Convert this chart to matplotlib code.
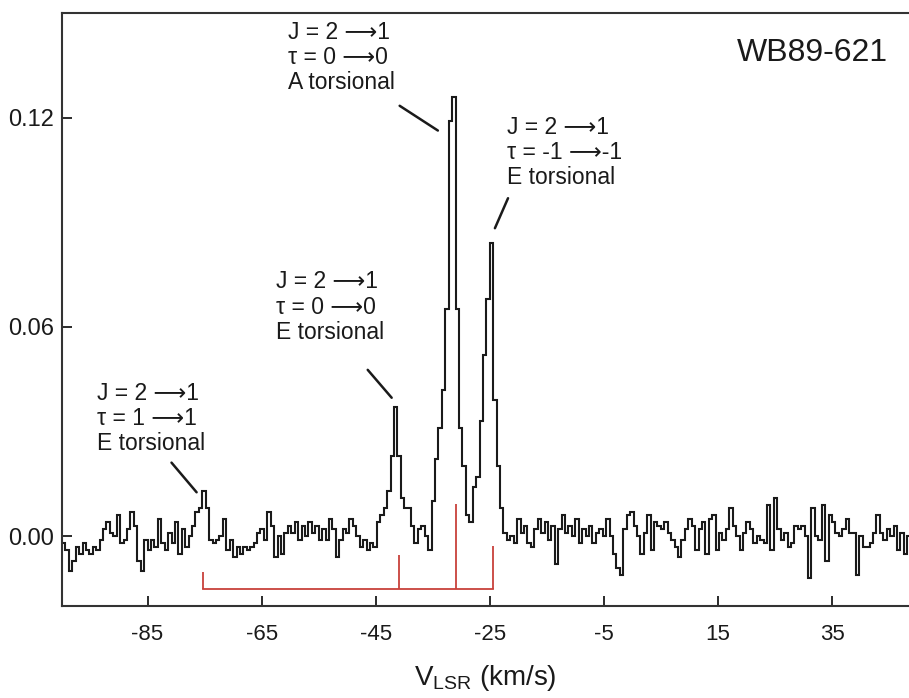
import numpy as np
import matplotlib.pyplot as plt

plt.rcParams['font.family'] = ['Liberation Sans', 'DejaVu Sans']
plt.rcParams['mathtext.fontset'] = 'custom'
plt.rcParams['mathtext.rm'] = 'Liberation Sans'
plt.rcParams['axes.unicode_minus'] = False

# spectrum, 0.6 km/s channels starting at -100 km/s (antenna temperature in mK)
v_start = -100.0
dv = 0.6
ta_mK = [
    -2, -4, -10, -7, -3, -5, -2, -4, -5, -3,
    -4, -1, 2, 4, 1, 0, 6, -2, -1, 2,
    7, 3, -7, -10, -1, -4, -1, -3, 5, -2,
    -4, 1, -2, 4, -5, 2, -3, 0, 3, 7,
    8, 13, 8, -1, -2, -1, 0, 5, -4, -1,
    -6, -3, -5, -3, -4, -3, -2, 1, 2, -1,
    7, 3, -6, 0, -5, 1, 3, 1, 4, -1,
    3, 0, 4, 1, 3, -1, 2, -1, 5, 2,
    -6, -1, 2, 1, 5, 3, 0, -3, -1, -4,
    -2, -3, 4, 6, 8, 13, 23, 37, 23, 11,
    8, 8, 3, -2, 2, 3, 0, -4, 10, 22,
    31, 42, 65, 119, 126, 65, 31, 20, 6, 4,
    14, 17, 33, 52, 68, 84, 39, 20, 8, 1,
    -1, 0, -2, 5, 1, 3, -2, -3, 2, 5,
    1, 4, -1, 3, -8, 2, 6, 1, 3, 0,
    5, -2, 2, 0, 3, -2, 1, 2, 0, 5,
    0, -5, -9, -11, 2, 6, 7, 3, 0, -5,
    1, 6, -4, 4, 3, 2, 4, 1, -1, -3,
    -6, -1, 2, 5, 3, -4, 2, 4, -5, 5,
    6, -4, 1, -1, 2, 8, 3, 0, -4, 1,
    4, 2, -2, 0, -1, -2, 9, -4, 11, 2,
    -1, 1, -3, -2, 3, 2, 3, 0, -12, 8,
    0, -1, 9, -7, 6, 4, 1, 0, 2, 5,
    1, 1, -11, 0, -3, -3, -2, 1, 6, 1,
    -1, 2, 0, 3, -4, 1, -5, 0,
]

# predicted line positions (red sticks)
stick_v = [-75.2, -41.0, -31.0, -24.5]
stick_top = [-0.0103, -0.0054, 0.0091, -0.0029]
stick_base = -0.0151

# labels: text, text position (left, top), leader line start, leader line end
labels = [
    ('J = 2 \u27f61\n\u03c4 = 0 \u27f60\nA torsional', (-60.4, 0.1478), (-40.8, 0.1234), (-34.1, 0.1163)),
    ('J = 2 \u27f61\n\u03c4 = -1 \u27f6-1\nE torsional', (-22.0, 0.1205), (-21.8, 0.0969), (-24.1, 0.0883)),
    ('J = 2 \u27f61\n\u03c4 = 0 \u27f60\nE torsional', (-62.4, 0.0762), (-46.4, 0.0477), (-42.2, 0.0397)),
    ('J = 2 \u27f61\n\u03c4 = 1 \u27f61\nE torsional', (-93.9, 0.0442), (-80.8, 0.0211), (-76.4, 0.0126)),
]

ta = np.array(ta_mK) / 1000.0
edges = v_start + dv * np.arange(len(ta) + 1)

fig = plt.figure(figsize=(9.09, 6.98), dpi=100)
ax = fig.add_axes([0.0682, 0.1318, 0.9318, 0.8496])

ax.stairs(ta, edges, baseline=None, color='#1a1a1a', lw=1.5)

red = '#c8413c'
ax.plot([stick_v[0], stick_v[-1]], [stick_base, stick_base], color=red, lw=1.3)
ax.vlines(stick_v, stick_base, stick_top, color=red, lw=1.3)

for txt, (tx, ty), p0, p1 in labels:
    ax.text(tx, ty, txt, ha='left', va='top', fontsize=16.5, color='#1a1a1a', linespacing=1.12)
    ax.annotate('', xy=p1, xytext=p0, arrowprops=dict(arrowstyle='-', lw=1.8, color='#1a1a1a', shrinkA=0, shrinkB=0))

ax.text(44.8, 0.1385, 'WB89-621', ha='right', va='center', fontsize=23, color='#1a1a1a')

ax.set_xlim(-100, 48.5)
ax.set_ylim(-0.02, 0.15)
ax.set_xticks([-85, -65, -45, -25, -5, 15, 35])
ax.set_yticks([0.0, 0.06, 0.12])
ax.set_yticklabels(['0.00', '0.06', '0.12'])
ax.tick_params(direction='in', length=7, width=1.3, labelsize=16, colors='#1a1a1a')
ax.tick_params(axis='x', pad=13)
ax.tick_params(axis='y', pad=6, labelsize=17)
ax.spines['right'].set_visible(False)
for s in ['left', 'top', 'bottom']:
    ax.spines[s].set_linewidth(1.5)
    ax.spines[s].set_color('#333333')

ax.set_xlabel(r'V$_\mathregular{LSR}$ (km/s)', fontsize=20, labelpad=13, color='#1a1a1a')

plt.savefig('out.png', dpi=100)
